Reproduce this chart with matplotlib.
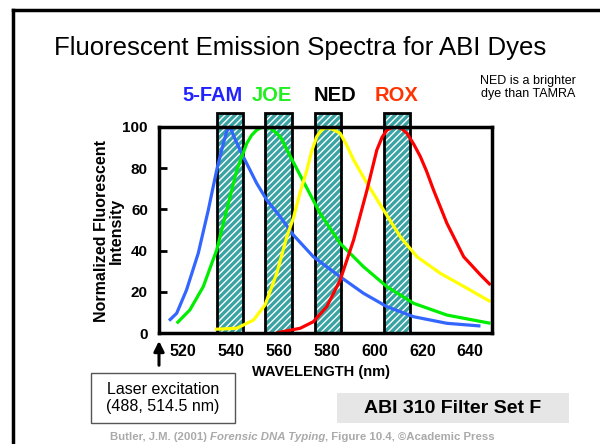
import matplotlib.pyplot as plt
from matplotlib.patches import Rectangle

plt.rcParams['font.family'] = ['Liberation Sans', 'DejaVu Sans']

# emission spectra (wavelength nm, normalized intensity)
fam_x = [514.2, 517.4, 521.5, 526.4, 530.6, 534.1, 536.9, 538.3, 539.2, 540.2, 541.0, 543.0,
         545.2, 550.8, 555.0, 560.6, 566.2, 574.5, 585.7, 595.4, 605.2, 616.4, 630.3, 644.3]
fam_y = [6.0, 9.6, 20.9, 38.7, 59.7, 79.1, 92.1, 97.8, 99.4, 98.8, 96.1, 91.0,
         85.6, 72.7, 64.6, 56.5, 47.5, 37.0, 27.3, 19.3, 12.8, 7.9, 4.7, 3.4]

joe_x = [517.4, 522.9, 528.5, 534.1, 538.3, 542.5, 546.7, 548.7, 550.8, 552.5, 554.0, 556.5,
         559.2, 561.2, 563.4, 569.0, 577.3, 585.7, 595.4, 605.2, 616.4, 630.3, 648.5]
joe_y = [4.7, 11.2, 22.5, 40.3, 59.7, 79.1, 92.1, 96.0, 98.5, 99.6, 100.0, 99.4,
         97.0, 94.3, 89.0, 76.5, 58.1, 43.5, 32.2, 22.5, 14.4, 8.7, 4.7]

ned_x = [533.4, 542.5, 549.5, 554.3, 559.2, 563.4, 566.2, 569.0, 571.8, 573.7, 575.9, 577.7,
         579.5, 581.2, 583.2, 585.7, 588.3, 591.3, 596.9, 603.8, 610.8, 617.8, 627.5, 638.7, 648.5]
ned_y = [1.8, 2.3, 6.3, 13.6, 29.0, 46.7, 56.0, 68.5, 79.1, 88.0, 95.3, 98.3,
         99.6, 99.4, 98.5, 96.9, 91.5, 84.0, 72.7, 59.7, 46.7, 37.0, 29.0, 21.7, 15.2]

rox_x = [559.2, 569.0, 574.5, 580.1, 585.7, 591.3, 596.9, 601.0, 603.2, 605.2, 607.3, 609.4,
         611.4, 613.6, 616.5, 619.2, 621.8, 624.7, 630.3, 637.3, 644.3, 648.5]
rox_y = [0.1, 2.3, 5.5, 12.8, 25.7, 45.1, 69.4, 88.8, 95.0, 98.5, 99.7, 100.0,
         99.2, 96.9, 91.5, 85.6, 78.5, 69.4, 53.2, 37.0, 28.2, 23.3]

dye_names = ["5-FAM", "JOE", "NED", "ROX"]
dye_label_colors = ["#2222ff", "#22ee22", "black", "#ff3300"]
curve_colors = ["#3366ff", "#00ee00", "#ffff00", "#ff0000"]

# ABI 310 filter set F windows
filter_centers = [539.6, 559.9, 580.6, 609.5]
filter_width = 11
filter_top = 107

x_ticks = [520, 540, 560, 580, 600, 620, 640]
y_ticks = [0, 20, 40, 60, 80, 100]

fig = plt.figure(figsize=(6, 4.44), dpi=100)
ax = fig.add_axes([0.265, 0.25, 0.5545, 0.464])

for c in filter_centers:
    ax.add_patch(Rectangle((c - filter_width / 2, 0), filter_width, filter_top,
                           facecolor="#3aa3a3", edgecolor="white", hatch="/////",
                           linewidth=0, clip_on=False, zorder=1))
    ax.add_patch(Rectangle((c - filter_width / 2, 0), filter_width, filter_top,
                           fill=False, edgecolor="black", linewidth=2,
                           clip_on=False, zorder=2))

for xs, ys, col in zip([fam_x, joe_x, ned_x, rox_x], [fam_y, joe_y, ned_y, rox_y], curve_colors):
    ax.plot(xs, ys, color=col, lw=2.3, zorder=3, solid_capstyle="butt", solid_joinstyle="round")

ax.set_xlim(510, 649)
ax.set_ylim(0, 100)
for s in ax.spines.values():
    s.set_linewidth(2.5)
    s.set_zorder(4)
ax.set_xticks(x_ticks)
ax.set_yticks(y_ticks)
ax.tick_params(axis="x", length=0, pad=8, labelsize=11.5)
ax.tick_params(axis="y", direction="in", length=6, width=2, pad=8, labelsize=11)
for lab in ax.get_xticklabels() + ax.get_yticklabels():
    lab.set_fontweight("bold")

fig.text(0.182, 0.48, "Normalized Fluorescent\nIntensity", rotation=90, ha="center",
         va="center", fontsize=11.5, fontweight="bold", linespacing=1.0)
fig.text(0.535, 0.163, "WAVELENGTH (nm)", ha="center", va="center",
         fontsize=10.5, fontweight="bold")

# title and dye names
fig.text(0.5, 0.892, "Fluorescent Emission Spectra for ABI Dyes", ha="center",
         va="center", fontsize=18.5)
for name, col, xpos in zip(dye_names, dye_label_colors, [0.355, 0.453, 0.558, 0.66]):
    fig.text(xpos, 0.786, name, color=col, ha="center", va="center",
             fontsize=14.5, fontweight="bold")
fig.text(0.88, 0.803, "NED is a brighter\ndye than TAMRA", ha="center", va="center",
         fontsize=9, linespacing=1.15)

# laser excitation arrow and box
ax.annotate("", xy=(510, -2.5), xytext=(510, -17), xycoords="data",
            arrowprops=dict(arrowstyle="-|>,head_length=0.6,head_width=0.3",
                            color="black", lw=2.2), annotation_clip=False)
fig.patches.append(Rectangle((91 / 600, 1 - 423 / 444), 144 / 600, 50 / 444,
                             transform=fig.transFigure, facecolor="white",
                             edgecolor="#555555", lw=1, figure=fig))
fig.text(163 / 600, 1 - 398 / 444, "Laser excitation\n(488, 514.5 nm)", ha="center",
         va="center", fontsize=11.5, linespacing=1.2)

fig.patches.append(Rectangle((337 / 600, 1 - 423 / 444), 232 / 600, 30 / 444,
                             transform=fig.transFigure, facecolor="#e6e6e6",
                             edgecolor="none", figure=fig))
fig.text(453 / 600, 1 - 408 / 444, "ABI 310 Filter Set F", ha="center", va="center",
         fontsize=14, fontweight="bold")

# citation line in three parts
t1 = fig.text(0.183, 0.016, "Butler, J.M. (2001) ", ha="left", va="center",
              fontsize=8.2, fontweight="bold", color="#aaaaaa")
t2 = plt.annotate("Forensic DNA Typing", xy=(1, 0.5), xycoords=t1, ha="left", va="center",
                  fontsize=8.2, fontweight="bold", style="italic", color="#aaaaaa")
plt.annotate(", Figure 10.4, \u00a9Academic Press", xy=(1, 0.5), xycoords=t2, ha="left",
             va="center", fontsize=8.2, fontweight="bold", color="#aaaaaa")

# slide frame (left and top edges)
fig.add_artist(plt.Line2D([13 / 600, 13 / 600], [0, 1 - 10 / 444], color="black", lw=2.5))
fig.add_artist(plt.Line2D([13 / 600, 1], [1 - 10 / 444, 1 - 10 / 444], color="black", lw=2.5))

fig.savefig("out.png", dpi=100)
